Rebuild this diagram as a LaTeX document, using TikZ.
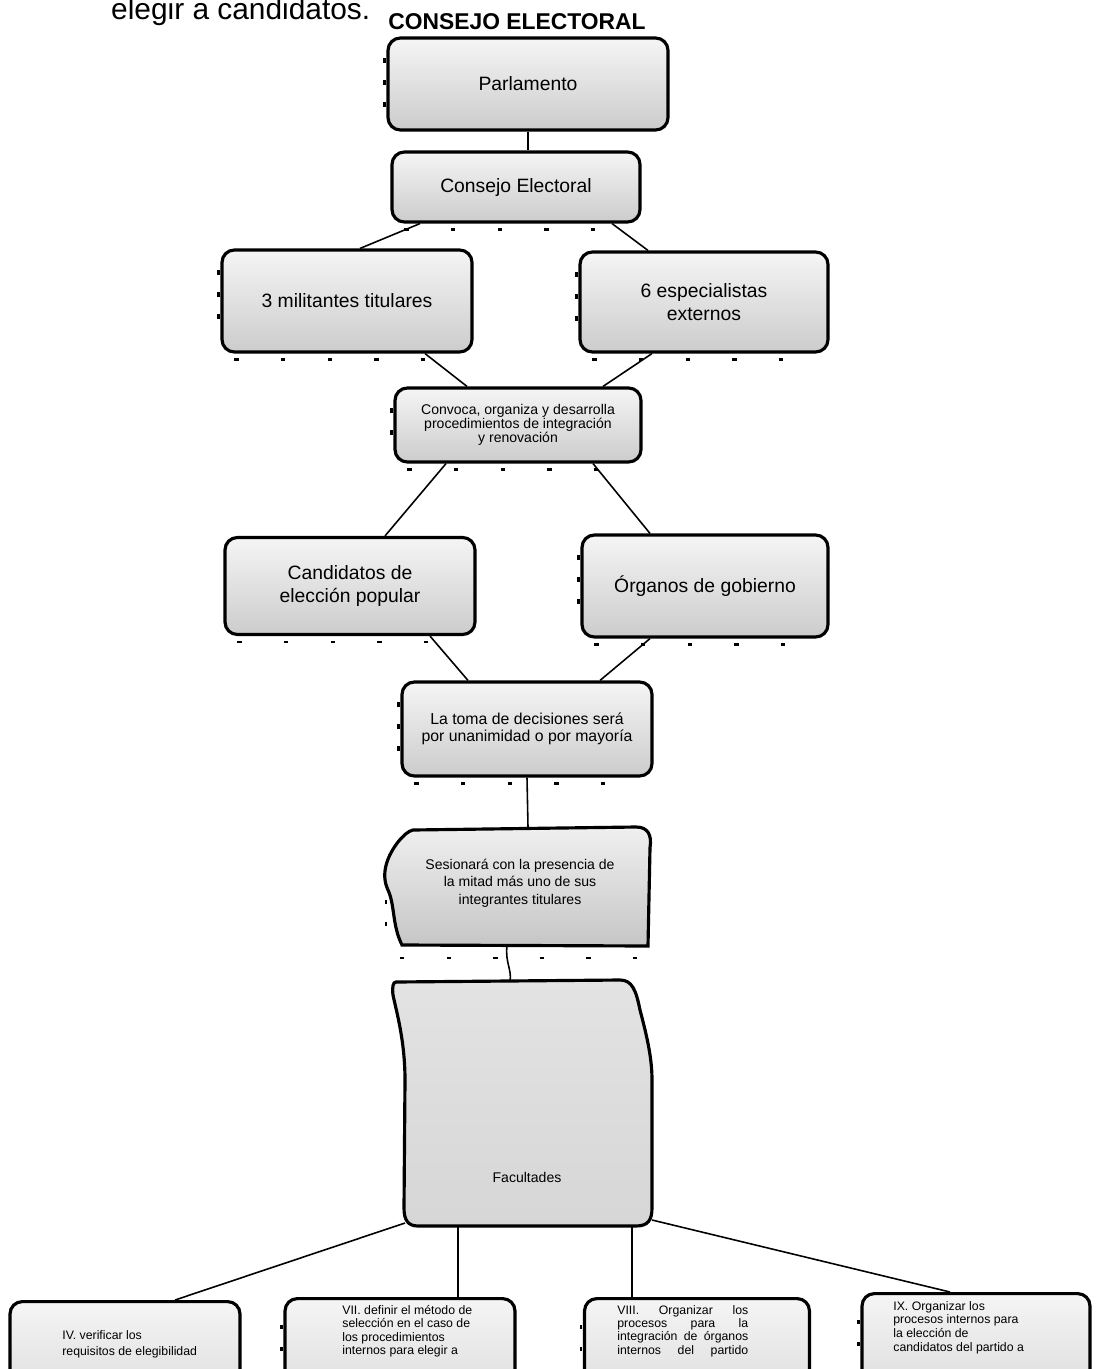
\documentclass[tikz,border=0pt]{standalone}
\usepackage{fontspec}
\setmainfont{Liberation Sans}
\usetikzlibrary{calc}

\begin{document}
\begin{tikzpicture}[x=0.02cm, y=-0.02cm,
    caja/.style={draw=black, line width=1.8pt, rounded corners=7pt,
      top color=gray!8, bottom color=gray!40, align=center, inner sep=2pt},
    grande/.style={font=\fontsize{11}{13.5}\selectfont},
    chica/.style={font=\fontsize{8}{7.8}\selectfont},
    mini/.style={font=\fontsize{7}{7.6}\selectfont, inner sep=0pt, align=left},
    enlace/.style={line width=0.9pt},
    marca/.style={line width=1.5pt, dash pattern=on 2.5pt off 24pt},
    marcav/.style={line width=1.5pt, dash pattern=on 2.5pt off 10pt}]
  \useasboundingbox (0,0) rectangle (1103,1369);

  \node[anchor=base west, font=\fontsize{17}{20}\selectfont] (intro) at (105,19) {elegir a candidatos.};
  \node[font=\fontsize{13}{15}\selectfont\bfseries] (titulo) at (517,22) {CONSEJO ELECTORAL};

  \node[caja, grande, minimum width=5.6cm, minimum height=1.84cm] (parl) at (528,84) {Parlamento};
  \node[caja, grande, minimum width=4.96cm, minimum height=1.4cm] (cons) at (516,187) {Consejo Electoral};
  \node[caja, grande, minimum width=5cm, minimum height=2.04cm] (mil) at (347,301) {3 militantes titulares};
  \node[caja, grande, minimum width=4.96cm, minimum height=2cm] (esp) at (704,302) {6 especialistas\\ externos};
  \node[caja, chica, minimum width=4.92cm, minimum height=1.48cm] (conv) at (518,425)
    {Convoca, organiza y desarrolla\\ procedimientos de integración\\ y renovación};
  \node[caja, grande, minimum width=5cm, minimum height=1.94cm] (cand) at (350,586) {Candidatos de\\ elección popular};
  \node[caja, grande, minimum width=4.92cm, minimum height=2.04cm] (org) at (705,586) {Órganos de gobierno};
  \node[caja, font=\fontsize{9}{9.8}\selectfont, minimum width=5cm, minimum height=1.88cm] (toma) at (527,729)
    {La toma de decisiones será\\ por unanimidad o por mayoría};

  % hoja curvada
  \draw[line width=1.8pt, top color=gray!12, bottom color=gray!45]
    (413,830) -- (636,827) .. controls (648,827) and (652,835) .. (650,848)
    -- (648,946) -- (402,945) .. controls (392,925) and (395,905) .. (388,890)
    .. controls (380,873) and (388,855) .. (398,842)
    .. controls (403,836) and (408,831) .. (413,830) -- cycle;
  \node[font=\fontsize{8}{10}\selectfont, align=center] (hoja) at (520,883)
    {Sesionará con la presencia de\\ la mitad más uno de sus\\ integrantes titulares};
  \coordinate (hojaarr) at (528,827);
  \coordinate (hojaab) at (507,946);

  \draw[line width=1.8pt, top color=gray!22, middle color=gray!5, bottom color=gray!32]
    (396,982) -- (620,980) .. controls (632,980) and (636,990) .. (640,1010)
    .. controls (648,1040) and (652,1060) .. (652,1080) -- (652,1208)
    .. controls (652,1220) and (648,1226) .. (636,1226) -- (418,1226)
    .. controls (408,1226) and (404,1220) .. (404,1208) -- (405,1080)
    .. controls (405,1040) and (396,1010) .. (393,995)
    .. controls (392,987) and (393,982) .. (396,982) -- cycle;
  \node[font=\fontsize{8}{10}\selectfont] (fac) at (527,1177) {Facultades};
  \coordinate (facarr) at (510,981);
  \coordinate (fac1) at (405,1223);
  \coordinate (fac2) at (458,1226);
  \coordinate (fac3) at (632,1226);
  \coordinate (fac4) at (652,1220);

  \node[caja, anchor=north, minimum width=4.6cm, minimum height=3.4cm] (b1) at (125,1300) {};
  \node[caja, anchor=north, minimum width=4.6cm, minimum height=3.4cm] (b2) at (400,1297) {};
  \node[caja, anchor=north, minimum width=4.5cm, minimum height=3.4cm] (b3) at (697,1297) {};
  \node[caja, anchor=north, minimum width=4.56cm, minimum height=3.4cm] (b4) at (976,1292) {};

  \node[mini, anchor=north west, font=\fontsize{7}{9}\selectfont] (t1) at (62,1330)
    {IV. verificar los\\ requisitos de elegibilidad};
  \node[mini, anchor=north west] (t2) at (342,1305)
    {VII. definir el método de\\ selección en el caso de\\ los procedimientos\\ internos para elegir a};
  \node[mini, anchor=north west, text width=2.62cm, align=justify] (t3) at (617,1305)
    {\parfillskip=0pt VIII. Organizar los\linebreak procesos para la\linebreak integración de órganos\linebreak internos del partido\par};
  \node[mini, anchor=north west, font=\fontsize{7}{7.8}\selectfont] (t4) at (893,1301)
    {IX. Organizar los\\ procesos internos para\\ la elección de\\ candidatos del partido a};

  \draw[enlace] (parl.south) -- (parl.south |- cons.north);
  \draw[enlace] ($(cons.south)+(-96,0)$) -- ($(mil.north)+(13,0)$);
  \draw[enlace] ($(cons.south)+(96,0)$) -- ($(esp.north)+(-56,0)$);
  \draw[enlace] ($(mil.south)+(78,0)$) -- ($(conv.north)+(-51,0)$);
  \draw[enlace] ($(esp.south)+(-52,0)$) -- ($(conv.north)+(85,0)$);
  \draw[enlace] ($(conv.south)+(-72,0)$) -- ($(cand.north)+(35,0)$);
  \draw[enlace] ($(conv.south)+(75,0)$) -- ($(org.north)+(-55,0)$);
  \draw[enlace] ($(cand.south)+(80,0)$) -- ($(toma.north)+(-59,0)$);
  \draw[enlace] ($(org.south)+(-55,0)$) -- ($(toma.north)+(73,0)$);
  \draw[enlace] (toma.south) -- (hojaarr);
  \draw[enlace] (hojaab) .. controls (505,962) and (512,970) .. (facarr);
  \draw[enlace] (fac1) -- ($(b1.north)+(50,0)$);
  \draw[enlace] (fac2) -- (fac2 |- b2.north);
  \draw[enlace] (fac3) -- (fac3 |- b3.north);
  \draw[enlace] (fac4) -- ($(b4.north)+(-26,0)$);

  \foreach \n in {cons,mil,esp,conv,cand,org,toma}
    \draw[marca] ($(\n.south west)+(14,6)$) -- ($(\n.south east)+(-10,6)$);
  \foreach \n in {parl,mil,esp,conv,org,toma}
    \draw[marcav] ($(\n.north west)+(-2,22)$) -- ($(\n.south west)+(-2,-18)$);
  \draw[marca] (400,958) -- (650,958);
  \draw[marcav] (386,900) -- (386,940);
  \foreach \n in {b2,b3,b4}
    \draw[marcav] ($(\n.north west)+(-2,28)$) -- ($(\n.north west)+(-2,60)$);
\end{tikzpicture}
\end{document}
